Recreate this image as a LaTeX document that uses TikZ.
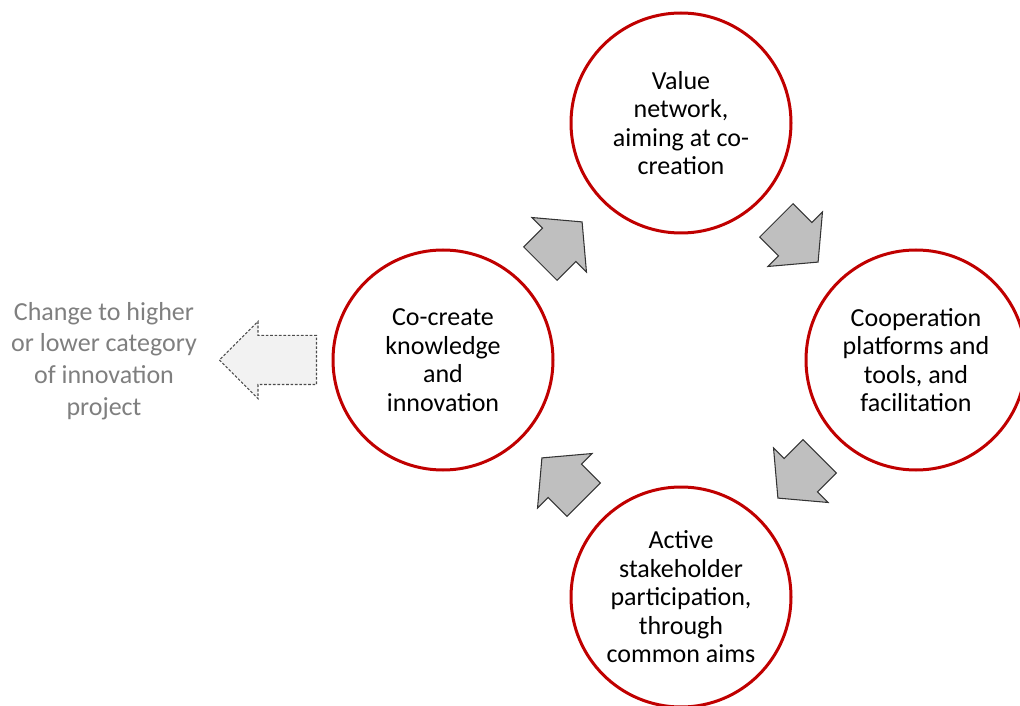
\documentclass[tikz,border=0pt]{standalone}
\usepackage{fontspec}
\setmainfont{Carlito}
\usetikzlibrary{shapes.arrows, positioning}
\definecolor{ringred}{RGB}{192, 0, 0}
\definecolor{arrowgray}{RGB}{191, 191, 191}
\definecolor{notegray}{RGB}{127, 127, 127}

\begin{document}
\begin{tikzpicture}[
  stage/.style={circle, draw=ringred, line width=0.06cm, minimum size=4.4cm, inner sep=0pt, align=center, font=\fontsize{14.8}{16.2}\selectfont},
  flow/.style={single arrow, draw=black!80, fill=arrowgray, line width=0.6pt, minimum height=1.18cm, inner xsep=0pt, inner ysep=0.46cm, single arrow head extend=0.3cm, single arrow tip angle=100, anchor=tail},
  exit/.style={flow, draw=black!70, dash pattern=on 1.5pt off 1pt, fill=gray!10, minimum height=1.94cm, inner ysep=0.48cm, single arrow head extend=0.28cm, single arrow tip angle=90}
]
  \useasboundingbox (0, 0) rectangle (20.4, -14.12);

  % Cycle
  \node[stage] (value) at (13.62, -2.46) {Value\\network,\\aiming at co-\\creation};
  \node[stage] (coop) at (18.32, -7.2) {Cooperation\\platforms and\\tools, and\\facilitation};
  \node[stage] (active) at (13.62, -11.94) {Active\\stakeholder\\participation,\\through\\common aims};
  \node[stage] (cocreate) at (8.86, -7.2) {Co-create\\knowledge\\and\\innovation};

  % Block arrows between stages
  \node[flow, rotate=45] (to-value) at (10.80, -5.28) {};
  \node[flow, rotate=-45] (to-coop) at (15.52, -4.40) {};
  \node[flow, rotate=-135] (to-active) at (16.40, -9.12) {};
  \node[flow, rotate=135] (to-cocreate) at (11.68, -10.00) {};

  % Way out
  \node[exit, rotate=180] (to-note) at (6.34, -7.2) {};
  \node[font=\fontsize{14.8}{18}\selectfont, text=notegray, align=center] (note) at (2.08, -7.22) {Change to higher\\or lower category\\of innovation\\project};
\end{tikzpicture}
\end{document}
